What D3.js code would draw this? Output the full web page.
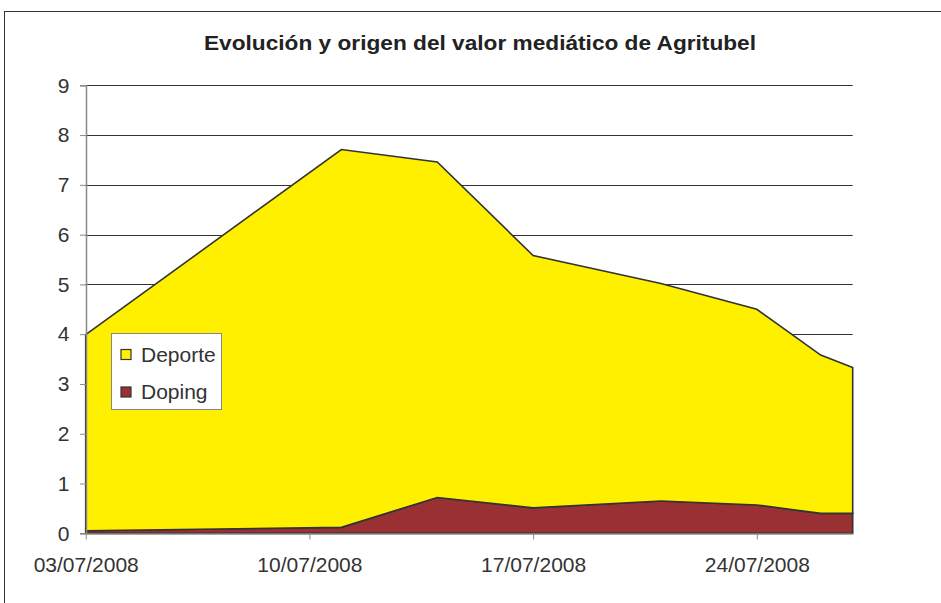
<!DOCTYPE html>
<html>
<head>
<meta charset="utf-8">
<script src="https://cdn.jsdelivr.net/npm/d3@7"></script>
<style>
  html, body { margin: 0; padding: 0; background: #fff; }
  svg { display: block; font-family: "Liberation Sans", Arial, sans-serif; }
</style>
</head>
<body>
<svg id="chart" width="941" height="603"></svg>
<script>
// ---- Data ----
const dates = ["2008-07-03", "2008-07-11", "2008-07-14", "2008-07-17", "2008-07-21", "2008-07-24", "2008-07-26", "2008-07-27"];
const doping  = [0.05, 0.12, 0.72, 0.51, 0.65, 0.57, 0.40, 0.40];
const deporte = [3.94, 7.59, 6.74, 5.07, 4.37, 3.93, 3.18, 2.93];
const seriesNames = ["Deporte", "Doping"];
const seriesColors = { Deporte: "#FFF000", Doping: "#993034" };
const yTicks = [0, 1, 2, 3, 4, 5, 6, 7, 8, 9];
const xTickLabels = ["03/07/2008", "10/07/2008", "17/07/2008", "24/07/2008"];
const title = "Evolución y origen del valor mediático de Agritubel";

// ---- Setup ----
const svg = d3.select("#chart");
const parse = d3.timeParse("%Y-%m-%d");
const parseLbl = d3.timeParse("%d/%m/%Y");
const fmt = d3.timeFormat("%d/%m/%Y");

const rows = dates.map((d, i) => ({ date: parse(d), Doping: doping[i], Deporte: deporte[i] }));

const x = d3.scaleTime()
  .domain([parse("2008-07-03"), parse("2008-07-27")])
  .range([85.7, 852.7]);
const y = d3.scaleLinear().domain([0, 9]).range([533.3, 85.3]);

// Outer frame
svg.append("rect")
  .attr("x", 4.5).attr("y", 11.5).attr("width", 940).attr("height", 600)
  .attr("fill", "none").attr("stroke", "#333").attr("stroke-width", 1);

// Title
svg.append("text")
  .attr("x", 480).attr("y", 50)
  .attr("text-anchor", "middle")
  .attr("font-size", 20).attr("font-weight", "bold").attr("fill", "#222")
  .attr("textLength", 552).attr("lengthAdjust", "spacingAndGlyphs")
  .text(title);

// Gridlines
svg.append("g").selectAll("line").data(yTicks.filter(v => v > 0)).join("line")
  .attr("x1", x.range()[0]).attr("x2", x.range()[1])
  .attr("y1", d => Math.round(y(d)) + 0.5).attr("y2", d => Math.round(y(d)) + 0.5)
  .attr("stroke", "#333").attr("stroke-width", 1);

// Stack: Doping bottom, Deporte on top
const stack = d3.stack().keys(["Doping", "Deporte"]);
const layers = stack(rows);

const area = d3.area()
  .x(d => x(d.data.date))
  .y0(d => y(d[0]))
  .y1(d => y(d[1]));

svg.append("g").selectAll("path").data(layers).join("path")
  .attr("d", area)
  .attr("fill", d => seriesColors[d.key])
  .attr("stroke", "#333")
  .attr("stroke-width", 1.6)
  .attr("stroke-linejoin", "miter");

// Y axis
const yAxis = d3.axisLeft(y).tickValues(yTicks).tickSize(6).tickPadding(10.5).tickFormat(d3.format("d"));
const gy = svg.append("g").attr("transform", "translate(86,0)").call(yAxis);
gy.select(".domain").attr("stroke", "#888").attr("stroke-width", 1.5);
gy.selectAll(".tick line").attr("stroke", "#888");
gy.selectAll("text").attr("font-size", 21).attr("fill", "#333")
  .attr("font-family", "'Liberation Sans', Arial, sans-serif");

// X axis
const xAxis = d3.axisBottom(x)
  .tickValues(xTickLabels.map(s => parseLbl(s)))
  .tickFormat(fmt)
  .tickSize(6).tickSizeOuter(0).tickPadding(17.5);
const gx = svg.append("g").attr("transform", "translate(0,533.5)").call(xAxis);
gx.select(".domain").attr("stroke", "#888").attr("stroke-width", 1.5);
gx.selectAll(".tick line").attr("stroke", "#888");
gx.selectAll("text").attr("font-size", 21).attr("fill", "#333")
  .attr("font-family", "'Liberation Sans', Arial, sans-serif");

// Legend
const lg = svg.append("g").attr("transform", "translate(111.5,333.5)");
lg.append("rect").attr("width", 110).attr("height", 76)
  .attr("fill", "#fff").attr("stroke", "#888").attr("stroke-width", 1);
seriesNames.forEach((name, i) => {
  const gy0 = 16 + i * 37.5;
  lg.append("rect").attr("x", 9.5).attr("y", gy0).attr("width", 10).attr("height", 10)
    .attr("fill", seriesColors[name]).attr("stroke", "#333").attr("stroke-width", 1.2);
  lg.append("text").attr("x", 29.5).attr("y", gy0 + 12)
    .attr("font-size", 21).attr("fill", "#333").text(name);
});
</script>
</body>
</html>
